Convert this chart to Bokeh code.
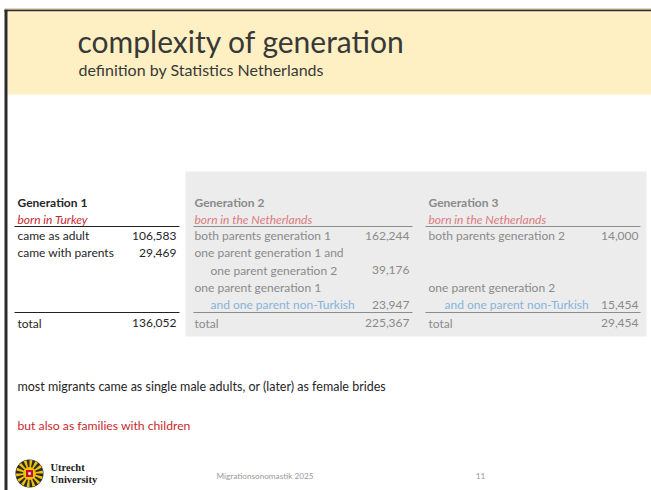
from bokeh.plotting import figure
from bokeh.models import Range1d
from bokeh.core.properties import value
from bokeh.embed import file_html
from bokeh.resources import INLINE
import numpy as np

# ---------------- data ----------------
title = "complexity of generation"
subtitle = "definition by Statistics Netherlands"
gen_titles = ["Generation 1", "Generation 2", "Generation 3"]
gen_subtitles = ["born in Turkey", "born in the Netherlands", "born in the Netherlands"]
gen1_labels = ["came as adult", "came with parents"]
gen1_values = [106583, 29469]
gen2_labels = ["both parents generation 1", "one parent generation 1 and",
               "one parent generation 2", "one parent generation 1",
               "and one parent non-Turkish"]
gen2_values = [162244, None, 39176, None, 23947]
gen3_labels = ["both parents generation 2", "", "", "one parent generation 2",
               "and one parent non-Turkish"]
gen3_values = [14000, None, None, None, 15454]
total_label = "total"
totals = [136052, 225367, 29454]
note1 = "most migrants came as single male adults, or (later) as female brides"
note2 = "but also as families with children"
logo_lines = ["Utrecht", "University"]
footer = "Migrationsonomastik 2025"
page_no = "11"

# ---------------- figure ----------------
W, H = 651, 490
p = figure(width=W, height=H, x_range=Range1d(0, W), y_range=Range1d(H, 0),
           output_backend="svg", toolbar_location=None, min_border=0,
           x_axis_location=None, y_axis_location=None)
p.grid.visible = False
p.outline_line_color = None
p.background_fill_color = "white"
p.border_fill_color = "white"

FONT = "Lato"
DARK = "#262626"
GRAY = "#8a8a8a"
RED = "#c8282e"
PINK = "#dc7a7e"
BLUE = "#86b4da"


def txt(x, y, t, size, color, align="left", style="normal", font=FONT, baseline="middle"):
    p.text(x=[x], y=[y], text=[t], text_font=value(font), text_font_size=size,
           text_color=color, text_align=align, text_baseline=baseline,
           text_font_style=style)


# header band
p.quad(left=[4], right=[W], top=[8], bottom=[9.2], fill_color="#c9b27c", line_color=None)
p.quad(left=[4], right=[W], top=[9.2], bottom=[11], fill_color="#2b2b2b", line_color=None)
p.quad(left=[7], right=[W], top=[11], bottom=[94], fill_color="#fff0c4", line_color=None)
# left border
p.quad(left=[4], right=[7], top=[9.2], bottom=[H], fill_color="#2b2b2b", line_color=None)

txt(77, 40, title, "30px", "#383838")
txt(78, 69, subtitle, "16px", "#383838")

# gray box for generation 2/3
p.quad(left=[185], right=[646], top=[171], bottom=[336], fill_color="#ececec", line_color=None)

col_left = [17, 194, 428]
col_right = [176, 409, 638]
line_ext = [(14, 179), (193, 412), (425, 640)]
row0, row_h = 235, 17.25
y_title, y_sub, y_line1, y_line2, y_total = 202, 219, 226, 312, 322.5
FS = "12px"

for g in range(3):
    tc = DARK if g == 0 else GRAY
    sc = RED if g == 0 else PINK
    lc = "#222222" if g == 0 else "#8c8c8c"
    txt(col_left[g], y_title, gen_titles[g], FS, tc, style="bold")
    txt(col_left[g], y_sub, gen_subtitles[g], FS, sc, style="italic")
    x0, x1 = line_ext[g]
    p.segment(x0=[x0, x0], x1=[x1, x1], y0=[y_line1, y_line2], y1=[y_line1, y_line2],
              line_color=lc, line_width=1)
    txt(col_left[g], y_total, total_label, FS, tc)
    txt(col_right[g], y_total, f"{totals[g]:,}", FS, tc, align="right")

for i, (lab, v) in enumerate(zip(gen1_labels, gen1_values)):
    y = row0 + i * row_h
    txt(col_left[0], y, lab, FS, DARK)
    txt(col_right[0], y, f"{v:,}", FS, DARK, align="right")

for g, (labels, vals) in enumerate([(gen2_labels, gen2_values), (gen3_labels, gen3_values)], start=1):
    for i, (lab, v) in enumerate(zip(labels, vals)):
        y = row0 + i * row_h
        if lab:
            indent = 16 if i in (2, 4) else 0
            color = BLUE if "non-Turkish" in lab else GRAY
            txt(col_left[g] + indent, y, lab, FS, color)
        if v is not None:
            txt(col_right[g], y, f"{v:,}", FS, GRAY, align="right")

# notes
txt(17, 386, note1, "12.5px", "#262626")
txt(17, 425, note2, "12.2px", RED)

# logo
cx, cy = 29, 473
n = 28
ang = np.linspace(0, 2 * np.pi, n, endpoint=False)
p.circle(x=[cx], y=[cy], radius=14, fill_color="#2a2a2a", line_color=None)
p.annular_wedge(x=cx, y=cy, inner_radius=5, outer_radius=13.5,
                start_angle=ang[::2], end_angle=ang[::2] + 2 * np.pi / n,
                fill_color="#f2c200", line_color=None)
p.circle(x=[cx], y=[cy], radius=6.5, fill_color="#f2c200", line_color=None)
p.quad(left=[cx - 3.5], right=[cx + 3.5], top=[cy - 3.5], bottom=[cy + 3.5], fill_color="#c8102e", line_color=None)
p.quad(left=[cx - 1.2], right=[cx + 1.2], top=[cy - 1.2], bottom=[cy + 1.2], fill_color="#ffffff", line_color=None)
txt(50, 467, logo_lines[0], "10.5px", "#222222", style="bold", font="Liberation Serif")
txt(50, 479, logo_lines[1], "10.5px", "#222222", style="bold", font="Liberation Serif")

txt(264.5, 475, footer, "8.2px", "#9a9a9a", align="center")
txt(480, 475, page_no, "8.2px", "#9a9a9a", align="center")

open("out.html", "w").write(file_html(p, INLINE))
